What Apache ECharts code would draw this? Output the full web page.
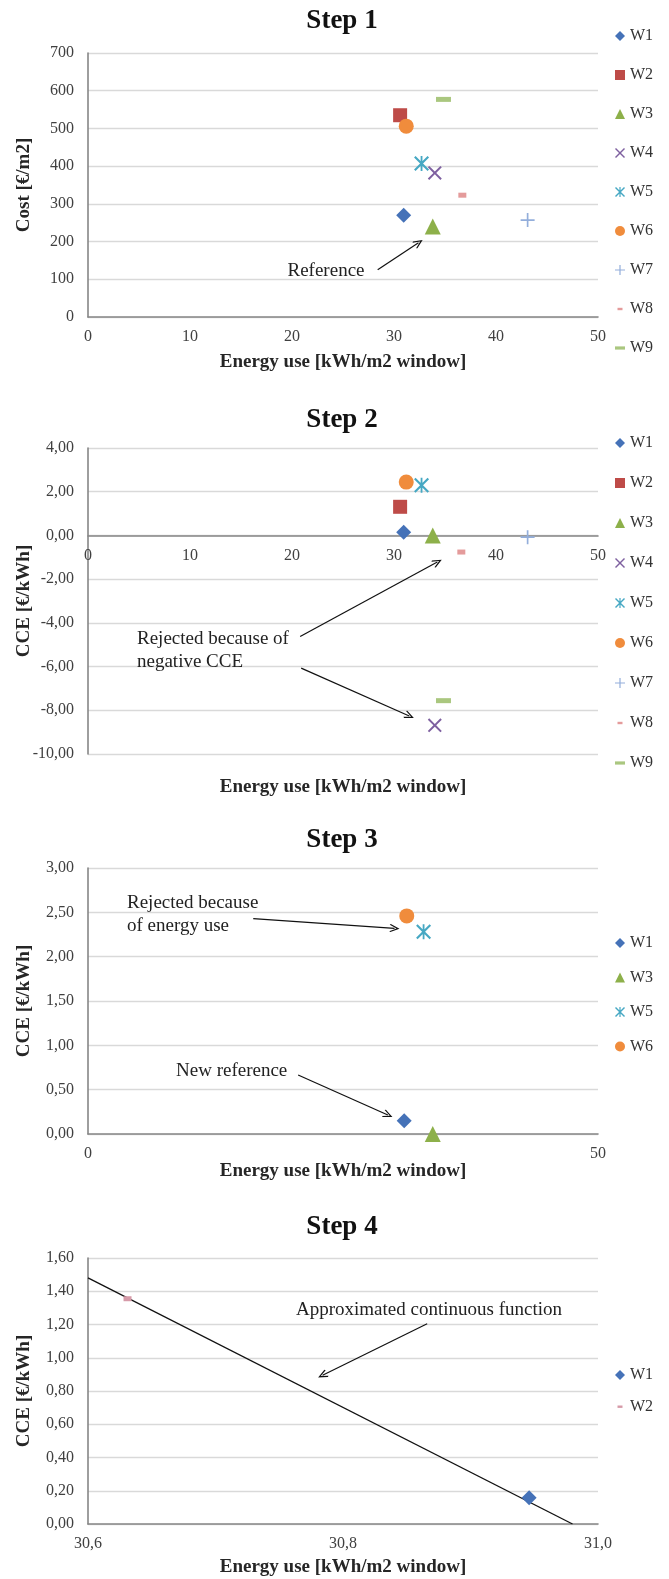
<!DOCTYPE html>
<html><head><meta charset="utf-8">
<script src="https://cdn.jsdelivr.net/npm/echarts@6/dist/echarts.min.js"></script>
<style>html,body{margin:0;padding:0;background:#fff}#c{width:669px;height:1579px}</style>
</head><body><div id="c"></div>
<script>
// ---- data ----
const step1Names = ['W1','W2','W3','W4','W5','W6','W7','W8','W9'];
const step1Energy = [30.95, 30.6, 33.8, 34.0, 32.7, 31.2, 43.1, 36.7, 34.85];
const step1Cost = [270, 535, 240, 382, 407, 506, 257, 323, 577];

const step2Names = ['W1','W2','W3','W4','W5','W6','W7','W8','W9'];
const step2Energy = [30.95, 30.6, 33.8, 34.0, 32.7, 31.2, 43.1, 36.6, 34.85];
const step2CCE = [0.15, 1.31, 0.0, -8.69, 2.30, 2.44, -0.08, -0.76, -7.56];

const step3Names = ['W1','W3','W5','W6'];
const step3Energy = [31.0, 33.8, 32.9, 31.25];
const step3CCE = [0.15, 0.0, 2.28, 2.46];

const step4Names = ['W1','W2'];
const step4Energy = [30.946, 30.631];
const step4CCE = [0.158, 1.355];
const step4LineEnergy = [30.6, 30.98];
const step4LineCCE = [1.48, 0];

const titles = ['Step 1','Step 2','Step 3','Step 4'];
const yNames = ['Cost [€/m2]','CCE [€/kWh]','CCE [€/kWh]','CCE [€/kWh]'];
const xName = 'Energy use [kWh/m2 window]';

// ---- styles ----
const FONT = '"Liberation Serif", "Times New Roman", serif';
const P_X = 'path://M0,1L1,0L5,4L9,0L10,1L6,5L10,9L9,10L5,6L1,10L0,9L4,5Z';
const P_AST = 'path://M0,1L1,0L5,4L9,0L10,1L6,5L10,9L9,10L5,6L1,10L0,9L4,5Z M4.4,0H5.6V10H4.4Z';
const P_PLUS = 'path://M4.4,0H5.6V4.4H10V5.6H5.6V10H4.4V5.6H0V4.4H4.4Z';
const P_DASH9 = 'path://M0,0H10V3.2H0Z';
const P_DASH8 = 'path://M0,0M10,10M2.5,3.8H7.5V6.2H2.5Z';
const ARROW = 'path://M5,0L10,8.5L9,9.5L5,2.8L1,9.5L0,8.5Z';
const sty = {
  W1:{symbol:'diamond', size:15, color:'#4572B8', icon:'diamond'},
  W2:{symbol:'rect', size:14, color:'#BE4B48', icon:'rect'},
  W3:{symbol:'triangle', size:16, color:'#8DB04A', icon:'triangle'},
  W4:{symbol:P_X, size:14, color:'#7E60A0', icon:P_X},
  W5:{symbol:P_AST, size:15, color:'#46A8C3', icon:P_AST},
  W6:{symbol:'circle', size:15, color:'#F08C3C', icon:'circle'},
  W7:{symbol:P_PLUS, size:14, color:'#93AEDB', icon:P_PLUS},
  W8:{symbol:'rect', size:[8,5], color:'#E49B9B', icon:P_DASH8},
  W9:{symbol:'rect', size:[15,5], color:'#AAC77F', icon:P_DASH9}
};
const sty4 = {
  W1: sty.W1,
  W2:{symbol:'rect', size:[8,5], color:'#D69AA8', icon:P_DASH8}
};

const grids = [
  {left:88, top:53, width:510, height:264},
  {left:88, top:448, width:510, height:306},
  {left:88, top:868, width:510, height:266},
  {left:88, top:1258, width:510, height:266}
].map(g => Object.assign({outerBoundsMode:'none', containLabel:false}, g));
const legendPos = [
  {top:28, gap:23}, {top:435, gap:24}, {top:935, gap:18.5}, {top:1367, gap:15.7}
];
const comma = (d) => (v) => v.toFixed(d).replace('.', ',');

const series = [];
const legends = [];
function addStep(gi, names, xs, ys, styles, arrows) {
  const legendData = [];
  names.forEach((n, i) => {
    const s = styles[n];
    const id = 'S' + (gi+1) + '-' + n;
    const ser = {
      name: id, type:'scatter', xAxisIndex: gi, yAxisIndex: gi,
      symbol: s.symbol, symbolSize: s.size,
      itemStyle: {color: s.color, opacity: 1},
      data: [[xs[i], ys[i]]], z: 3
    };
    if (i === 0 && arrows) {
      ser.markLine = {
        silent: true, symbol: ['none', ARROW], symbolSize: [8, 10],
        label: {show:false}, animation:false,
        lineStyle: {color:'#111', width:1.2, type:'solid', opacity:1},
        emphasis: {disabled:true},
        data: arrows.map(a => [{coord:a[0]}, {coord:a[1]}])
      };
    }
    series.push(ser);
    legendData.push({name:id, icon:s.icon});
  });
  legends.push({
    orient:'vertical', left:615, top: legendPos[gi].top, itemGap: legendPos[gi].gap,
    itemWidth:10, itemHeight:10, padding:0, selectedMode:false,
    data: legendData,
    formatter: (n) => n.split('-')[1],
    textStyle: {fontFamily: FONT, fontSize:16, color:'#333', lineHeight:16}
  });
}

addStep(0, step1Names, step1Energy, step1Cost, sty, [[[28.4,125],[32.4,197]]]);
addStep(1, step2Names, step2Energy, step2CCE, sty, [[[20.8,-4.62],[34.25,-1.22]], [[20.9,-6.07],[31.5,-8.26]]]);
addStep(2, step3Names, step3Energy, step3CCE, sty, [[[16.2,2.43],[30.05,2.32]], [[20.6,0.666],[29.4,0.214]]]);
addStep(3, step4Names, step4Energy, step4CCE, sty4, [[[30.866,1.205],[30.784,0.895]]]);
series.push({
  name:'fit', type:'line', xAxisIndex:3, yAxisIndex:3, symbol:'none', silent:true,
  lineStyle:{color:'#111', width:1.3}, data: step4LineEnergy.map((x,i)=>[x, step4LineCCE[i]]), z:2
});

const axisLabel = {fontFamily: FONT, fontSize:16, color:'#404040'};
const axisNameStyle = {fontFamily: FONT, fontSize:19, fontWeight:'bold', color:'#262626'};
const split = {show:true, lineStyle:{color:'#D9D9D9', width:1.3}};

const xRanges = [[0,50,10,0],[0,50,10,0],[0,50,50,0],[30.6,31.0,0.2,1]];
const yRanges = [[0,700,100,0],[-10,4,2,2],[0,3,0.5,2],[0,1.6,0.2,2]];
const xNameGaps = [36, null, 28, 34];
const xAxes = xRanges.map((r, i) => {
  const yr = yRanges[i];
  // place the axis on the zero line of the value axis when zero is inside the range
  const zeroOffset = yr[0] < 0 ? -(0 - yr[0]) / (yr[1] - yr[0]) * grids[i].height : 0;
  return {
    type:'value', gridIndex:i, min:r[0], max:r[1], interval:r[2],
    offset: zeroOffset,
    axisLine: {show:true, onZero:false, lineStyle:{color:'#868686', width:1.6}},
    axisTick:{show:false}, splitLine:{show:false},
    axisLabel: Object.assign({margin:12, formatter: r[3] ? comma(1) : (v)=>String(v)}, axisLabel),
    name: xNameGaps[i] === null ? '' : xName, nameLocation:'middle', nameGap: xNameGaps[i] || 0,
    nameMoveOverlap:false,
    nameTextStyle: axisNameStyle
  };
});
const yAxes = yRanges.map((r, i) => ({
  type:'value', gridIndex:i, min:r[0], max:r[1], interval:r[2],
  axisLine: {show:true, onZero:false, lineStyle:{color:'#868686', width:1.6}}, axisTick:{show:false}, splitLine: split,
  axisLabel: Object.assign({margin:14, formatter: r[3] ? comma(r[3]) : (v)=>String(v)}, axisLabel),
  name: yNames[i], nameLocation:'middle', nameGap:54, nameRotate:90, nameMoveOverlap:false,
  nameTextStyle: axisNameStyle
}));

const titleTops = [8, 407, 827, 1214];
const titleOpts = titles.map((t, i) => ({
  text:t, left:342, textAlign:'center', top:titleTops[i], padding:0,
  textStyle:{fontFamily:FONT, fontSize:27, fontWeight:'bold', color:'#111'}
}));

const annFont = '19px ' + FONT;
function txt(text, x, y, align, lh) {
  return {type:'text', x:x, y:y, silent:true, z:10,
    style:{text:text, font:annFont, fill:'#222', align:align, verticalAlign:'middle',
      textAlign:align, textVerticalAlign:'middle', lineHeight: lh || 22}};
}
const graphics = [
  txt('Reference', 326, 271, 'center'),
  txt('Rejected because of\nnegative CCE', 137, 650.5, 'left', 22.4),
  txt('Rejected because\nof energy use', 127, 914.3, 'left', 23.3),
  txt('New reference', 176, 1071, 'left'),
  txt('Approximated continuous function', 296, 1310, 'left'),
  {type:'text', x:343, y:787, silent:true,
    style:{text:xName, font:'bold 19px ' + FONT, fill:'#262626', align:'center', verticalAlign:'middle',
      textAlign:'center', textVerticalAlign:'middle'}}
];

const chart = echarts.init(document.getElementById('c'), null, {renderer:'canvas'});
chart.setOption({
  animation:false,
  backgroundColor:'#fff',
  title: titleOpts,
  grid: grids,
  xAxis: xAxes,
  yAxis: yAxes,
  legend: legends,
  series: series,
  graphic: graphics
});
</script></body></html>
